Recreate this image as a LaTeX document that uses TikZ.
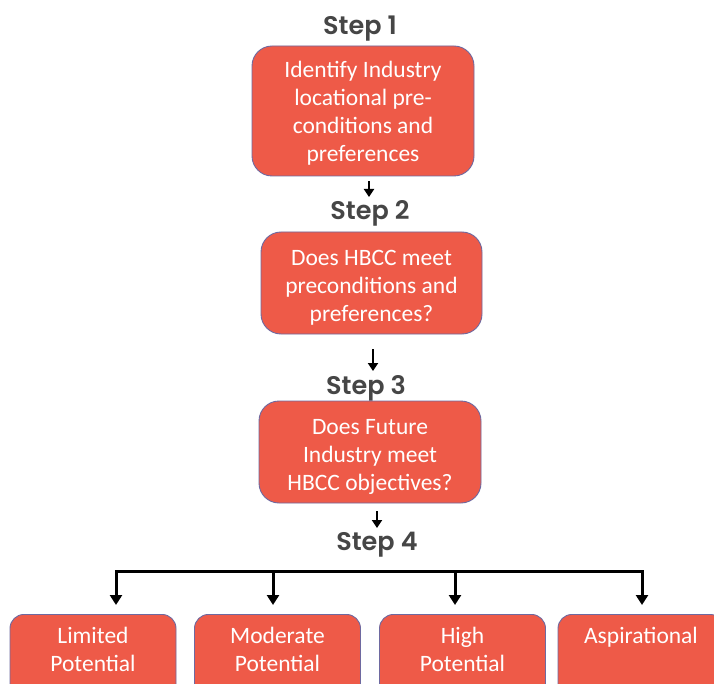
\documentclass[tikz,border=0pt]{standalone}
\usepackage{fontspec}
\setmainfont{Carlito}
\newfontfamily\stepfont{Poppins}[UprightFont=* SemiBold]
\usetikzlibrary{arrows.meta}
\definecolor{boxred}{RGB}{238,90,72}
\definecolor{boxedge}{RGB}{110,105,160}
\definecolor{stepgray}{RGB}{70,70,70}
\newcommand{\downstrut}{\rule{0pt}{25pt}}
\tikzset{
  box/.style={draw=boxedge, line width=0.9pt, fill=boxred, rounded corners=20pt,
    text=white, align=center, font=\fontsize{23.5}{28}\selectfont, inner sep=0pt},
  leaf/.style={box, minimum width=166pt, minimum height=90pt, rounded corners=14pt,
    anchor=north, font=\fontsize{23.5}{28}\selectfont},
  steplabel/.style={font=\stepfont\fontsize{25.5}{27}\selectfont, text=stepgray,
    inner sep=0pt, text height=17.5pt, text depth=0pt, anchor=north},
  arrS/.style={line width=2.6pt, -{Triangle[width=10pt,length=8pt]}},
  arrB/.style={line width=3pt, -{Triangle[width=12pt,length=10pt]}},
  bar/.style={line width=3pt, line cap=rect}
}
\begin{document}
\begin{tikzpicture}[x=1pt,y=-1pt]
\useasboundingbox (0,0) rectangle (714,684);
\clip (0,0) rectangle (714,684);
\fill[white] (0,0) rectangle (714,684);

\node[steplabel] (s1) at (360,17) {Step 1};
\node[box, minimum width=222pt, minimum height=130pt] (b1) at (363,111)
  {\rule{0pt}{21pt}Identify Industry\\locational pre-\\conditions and\\preferences};

\node[steplabel] (s2) at (370,202) {Step 2};
\node[box, minimum width=221pt, minimum height=102pt] (b2) at (371.5,283)
  {\downstrut Does HBCC meet\\preconditions and\\preferences?};

\node[steplabel] (s3) at (366,377) {Step 3};
\node[box, minimum width=222pt, minimum height=102pt] (b3) at (370,452)
  {\downstrut Does Future\\Industry meet\\HBCC objectives?};

\node[steplabel] (s4) at (377,533) {Step 4};

\node[leaf] (l1) at (93,614) {Limited\\Potential\\[-8pt]\mbox{}};
\node[leaf] (l2) at (277.5,614) {Moderate\\Potential\\[-8pt]\mbox{}};
\node[leaf] (l3) at (462.5,614) {High\\Potential\\[-8pt]\mbox{}};
\node[leaf] (l4) at (641,614) {Aspirational\\\strut\\[-8pt]\mbox{}};

\draw[arrS, shorten <=5pt, shorten >=5pt] ([xshift=6pt]b1.south) -- ([xshift=6pt]b1.south |- s2.north);
\draw[arrS, shorten <=15pt, shorten >=6pt] ([xshift=1.5pt]b2.south) -- ([xshift=1.5pt]b2.south |- s3.north);
\draw[arrS, shorten <=8pt, shorten >=5pt] ([xshift=7pt]b3.south) -- ([xshift=7pt]b3.south |- s4.north);

\coordinate (h1) at (116,571);
\coordinate (h2) at (273,571);
\coordinate (h3) at (455,571);
\coordinate (h4) at (642,571);
\draw[bar] (h1) -- (h4);
\draw[arrB, shorten >=9pt] (h1) -- (h1 |- l1.north);
\draw[arrB, shorten >=9pt] (h2) -- (h2 |- l2.north);
\draw[arrB, shorten >=9pt] (h3) -- (h3 |- l3.north);
\draw[arrB, shorten >=9pt] (h4) -- (h4 |- l4.north);
\end{tikzpicture}
\end{document}
